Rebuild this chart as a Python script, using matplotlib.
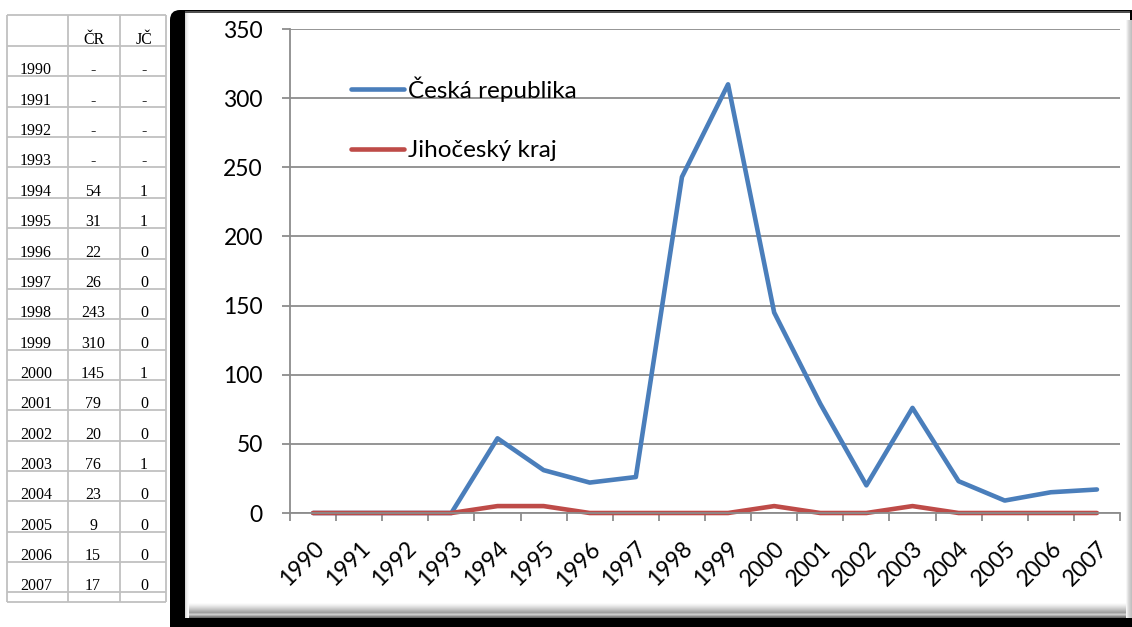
import matplotlib
matplotlib.use('Agg')
import matplotlib.pyplot as plt
from matplotlib.patches import Rectangle, FancyBboxPatch
from matplotlib.ticker import FixedLocator

# data
years = list(range(1990, 2008))
cr_table = ['-', '-', '-', '-', 54, 31, 22, 26, 243, 310, 145, 79, 20, 76, 23, 9, 15, 17]
jc_table = ['-', '-', '-', '-', 1, 1, 0, 0, 0, 0, 1, 0, 0, 1, 0, 0, 0, 0]
cr_series = [0, 0, 0, 0, 54, 31, 22, 26, 243, 310, 145, 79, 20, 76, 23, 9, 15, 17]
jc_series = [0, 0, 0, 0, 5, 5, 0, 0, 0, 0, 5, 0, 0, 5, 0, 0, 0, 0]
series_names = ['Česká republika', 'Jihočeský kraj']
y_ticks = [0, 50, 100, 150, 200, 250, 300, 350]

W, H = 1132, 627
GRID = '#8c8c8c'
BLUE = '#4a7ebb'
RED = '#be4b48'

fig = plt.figure(figsize=(W / 100, H / 100), dpi=100)

# background layer in pixel coordinates (y down)
bg = fig.add_axes([0, 0, 1, 1])
bg.set_xlim(0, W)
bg.set_ylim(H, 0)
bg.axis('off')

# chart frame with dark shadow on the left and bottom
bg.add_patch(FancyBboxPatch((178, 18), 1100, 700, boxstyle='round,pad=8,rounding_size=10',
                            fc='black', ec='none'))
bg.add_patch(Rectangle((185, 13), 945, 605, fc='white', ec='none'))
bg.add_patch(Rectangle((185, 11), 945, 2, fc='#505050', ec='none'))
# bevel along the bottom edge
bottom_grays = ['#fbfbfb', '#f4f4f4', '#ececec', '#e2e2e2', '#d8d8d8', '#cdcdcd', '#c2c2c2',
                '#b6b6b6', '#aaaaaa', '#a0a0a0', '#b8b8b8', '#cccccc', '#b0b0b0', '#8a8a8a', '#707070']
for i, c in enumerate(bottom_grays):
    bg.add_patch(Rectangle((185, 603 + i), 945, 1, fc=c, ec='none'))
# bevel along the right edge
right_grays = ['#f6f6f6', '#e8e8e8', '#dadada', '#d0d0d0', '#c8c8c8', '#c0c0c0']
for i, c in enumerate(right_grays):
    bg.add_patch(Rectangle((1126 + i, 20), 1, 598, fc=c, ec='none'))
# faint bevel on the left edge
for i, c in enumerate(['#d8d8d8', '#e8e8e8', '#f3f3f3', '#fafafa']):
    bg.add_patch(Rectangle((185 + i, 13), 1, 605, fc=c, ec='none'))

# data table on the left
col_x = [7, 68, 120, 166]
row_y = [15, 46] + [46 + 30.36 * k for k in range(1, 19)] + [602]
for y in row_y:
    bg.plot([col_x[0], col_x[-1]], [y, y], color='#c0c0c0', lw=1.3, solid_capstyle='butt')
for x in col_x:
    bg.plot([x, x], [row_y[0], row_y[-1]], color='#c0c0c0', lw=1.3, solid_capstyle='butt')

tfont = dict(family='Liberation Serif', fontsize=11.5, va='baseline', color='black')
bg.text((col_x[1] + col_x[2]) / 2, row_y[1] - 2, 'ČR', ha='center', **tfont)
bg.text((col_x[2] + col_x[3]) / 2 + 1, row_y[1] - 2, 'JČ', ha='center', **tfont)
for i, yr in enumerate(years):
    yb = row_y[i + 2] - 2
    bg.text(col_x[0] + 13, yb, str(yr), ha='left', **tfont)
    bg.text((col_x[1] + col_x[2]) / 2 - 1, yb, str(cr_table[i]), ha='center', **tfont)
    bg.text((col_x[2] + col_x[3]) / 2 + 1, yb, str(jc_table[i]), ha='center', **tfont)

# line chart
ax = fig.add_axes([290 / W, (H - 513) / H, 830 / W, 484 / H])
ax.set_facecolor('none')
x = list(range(len(years)))
l1, = ax.plot(x, cr_series, color=BLUE, lw=3.3, solid_capstyle='round',
              solid_joinstyle='round', clip_on=False)
l2, = ax.plot(x, jc_series, color=RED, lw=3.3, solid_capstyle='round',
              solid_joinstyle='round', clip_on=False)
ax.set_xlim(-0.5, len(years) - 0.5)
ax.set_ylim(0, 350)

ax.set_yticks(y_ticks)
ax.yaxis.grid(True, color=GRID, lw=1.3)
ax.set_axisbelow(True)
for side in ['top', 'right']:
    ax.spines[side].set_visible(False)
for side in ['left', 'bottom']:
    ax.spines[side].set_color(GRID)
    ax.spines[side].set_linewidth(1.3)

ax.set_xticks(x)
ax.set_xticklabels([str(y) for y in years], rotation=45, ha='right', va='top',
                   rotation_mode='anchor', fontsize=16.5, family='Lato')
ax.xaxis.set_minor_locator(FixedLocator([i - 0.5 for i in range(len(years) + 1)]))
ax.tick_params(axis='x', which='major', length=0, pad=18)
ax.tick_params(axis='x', which='minor', length=5.5, width=1.3, color=GRID, direction='out')
ax.tick_params(axis='y', length=5.5, width=1.3, color=GRID, direction='out', pad=14,
               labelsize=16.5)
for lab in ax.get_yticklabels():
    lab.set_family('Lato')

ax.legend([l1, l2], series_names, loc='upper left', frameon=False,
          bbox_to_anchor=(351 / W, 1 - 76 / H), bbox_transform=fig.transFigure,
          borderpad=0, borderaxespad=0, handlelength=2.2, handletextpad=0.15,
          labelspacing=1.6, prop={'family': 'Lato', 'size': 17.5})

fig.savefig('out.png', dpi=100)
